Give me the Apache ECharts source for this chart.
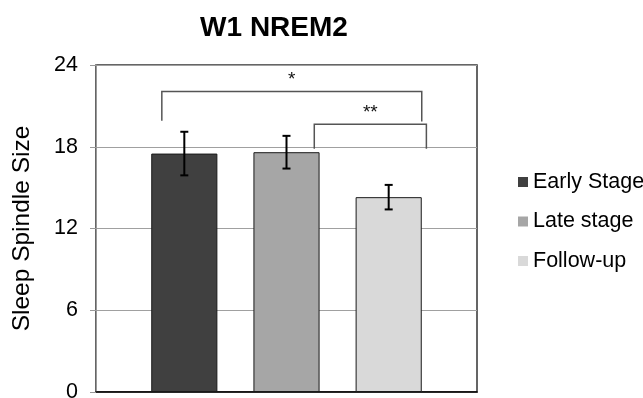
<!DOCTYPE html>
<html>
<head>
<meta charset="utf-8">
<script src="https://cdn.jsdelivr.net/npm/echarts@6/dist/echarts.min.js"></script>
<style>
  html, body { margin: 0; padding: 0; background: #fff; }
  #chart { width: 643px; height: 398px; }
</style>
</head>
<body>
<div id="chart"></div>
<script>
const seriesNames = ['Early Stage', 'Late stage', 'Follow-up'];
const means = [17.5, 17.6, 14.3];
const errors = [1.6, 1.2, 0.9];
const colors = ['#404040', '#a6a6a6', '#d9d9d9'];
const yTicks = [0, 6, 12, 18, 24];

// significance brackets: bar index + offset in bar widths, heights in data units
const brackets = [
    { from: [0, -0.34], to: [2, 0.5], top: 22.05, legLeft: 19.9, legRight: 19.85, label: '*' },
    { from: [1, 0.42], to: [2, 0.57], top: 19.65, legLeft: 17.85, legRight: 17.85, label: '**' }
];

// bar layout, shared by the bars and the overlay
const categoryGap = 0.29;
const barGap = 0.545;

const font = 'Liberation Sans, Arial, sans-serif';
const chart = echarts.init(document.getElementById('chart'));

function barCenter(api, idx, offset) {
    const band = api.size([1, 0])[0];
    const group = band * (1 - categoryGap);
    const n = seriesNames.length;
    const barW = group / (n + (n - 1) * barGap);
    const c = api.coord([0, 0])[0];
    return c - group / 2 + idx * barW * (1 + barGap) + barW / 2 + offset * barW;
}

const barSeries = seriesNames.map((name, i) => ({
    name: name,
    type: 'bar',
    data: [means[i]],
    barGap: (barGap * 100) + '%',
    barCategoryGap: (categoryGap * 100) + '%',
    itemStyle: { color: colors[i], borderColor: '#1a1a1a', borderWidth: 1 },
    z: 2
}));

const overlay = {
    type: 'custom',
    data: [0],
    z: 5,
    silent: true,
    renderItem: function (params, api) {
        const children = [];
        const cap = 4;
        means.forEach((m, i) => {
            const x = barCenter(api, i, 0);
            const yHi = api.coord([0, m + errors[i]])[1];
            const yLo = api.coord([0, m - errors[i]])[1];
            const st = { stroke: '#000', lineWidth: 2 };
            children.push({ type: 'line', shape: { x1: x, y1: yHi, x2: x, y2: yLo }, style: st });
            children.push({ type: 'line', shape: { x1: x - cap, y1: yHi, x2: x + cap, y2: yHi }, style: st });
            children.push({ type: 'line', shape: { x1: x - cap, y1: yLo, x2: x + cap, y2: yLo }, style: st });
        });
        brackets.forEach(b => {
            const x1 = barCenter(api, b.from[0], b.from[1]);
            const x2 = barCenter(api, b.to[0], b.to[1]);
            const yT = api.coord([0, b.top])[1];
            const yL = api.coord([0, b.legLeft])[1];
            const yR = api.coord([0, b.legRight])[1];
            children.push({
                type: 'polyline',
                shape: { points: [[x1, yL], [x1, yT], [x2, yT], [x2, yR]] },
                style: { stroke: '#555', lineWidth: 1.5, fill: null }
            });
            children.push({
                type: 'text',
                x: (x1 + x2) / 2,
                y: yT - 12,
                style: { text: b.label, fill: '#111', font: '19px ' + font, align: 'center', verticalAlign: 'middle' }
            });
        });
        return { type: 'group', children: children };
    }
};

const option = {
    animation: false,
    backgroundColor: '#fff',
    title: {
        text: 'W1 NREM2',
        left: 269,
        top: 9,
        textAlign: 'center',
        textStyle: { fontFamily: font, fontSize: 28, fontWeight: 'bold', color: '#000' }
    },
    legend: {
        orient: 'vertical',
        left: 513,
        top: 165,
        itemGap: 15.5,
        itemWidth: 10,
        itemHeight: 10,
        icon: 'rect',
        data: seriesNames,
        itemStyle: { borderWidth: 0 },
        textStyle: { fontFamily: font, fontSize: 21.5, lineHeight: 24, color: '#000' }
    },
    grid: {
        left: 96, right: 166, top: 65, bottom: 6,
        outerBoundsMode: 'none',
        show: true, borderColor: '#333', borderWidth: 1.5
    },
    xAxis: {
        type: 'category',
        data: [''],
        axisLine: { lineStyle: { color: '#000', width: 1.5 } },
        axisTick: { show: false },
        axisLabel: { show: false }
    },
    yAxis: {
        type: 'value',
        min: yTicks[0],
        max: yTicks[yTicks.length - 1],
        interval: yTicks[1] - yTicks[0],
        name: 'Sleep Spindle Size',
        nameLocation: 'middle',
        nameGap: 61,
        nameTextStyle: { fontFamily: font, fontSize: 24.5, color: '#000' },
        axisLine: { show: true, lineStyle: { color: '#999', width: 1 } },
        axisTick: { show: true, length: 6, lineStyle: { color: '#999' } },
        axisLabel: { fontFamily: font, fontSize: 21.5, color: '#000', margin: 18 },
        splitLine: { lineStyle: { color: '#a0a0a0', width: 1.2 } }
    },
    series: barSeries.concat([overlay])
};

chart.setOption(option);
</script>
</body>
</html>
